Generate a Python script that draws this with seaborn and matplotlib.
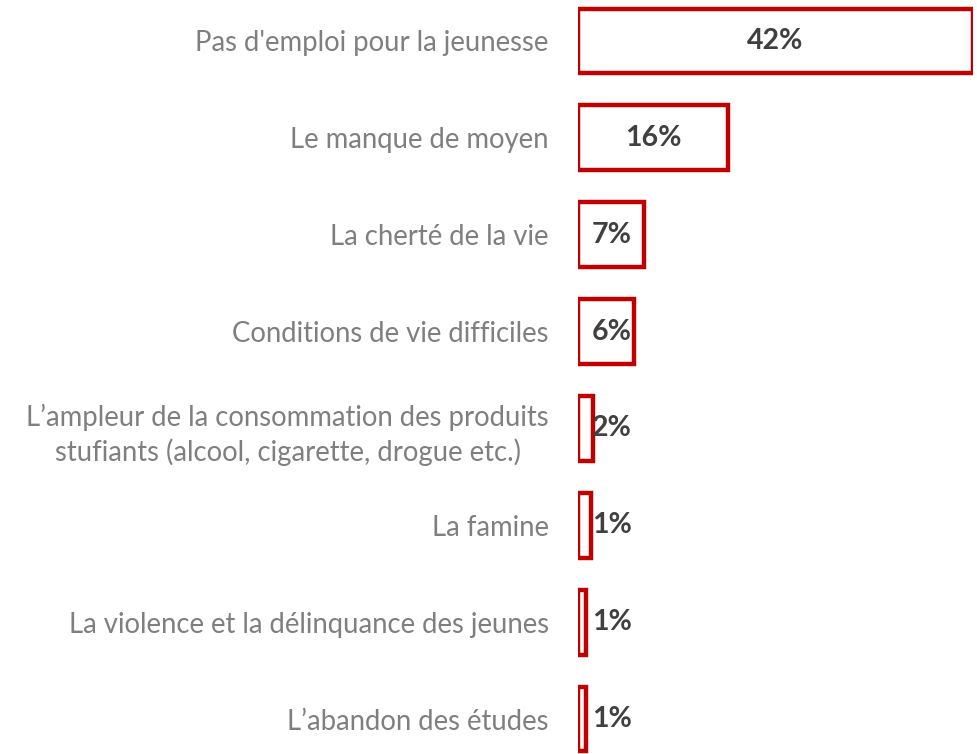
import matplotlib
matplotlib.use("Agg")
import matplotlib.pyplot as plt
import seaborn as sns
import pandas as pd

# données
categories = [
    "Pas d'emploi pour la jeunesse",
    "Le manque de moyen",
    "La cherté de la vie",
    "Conditions de vie difficiles",
    "L\u2019ampleur de la consommation des produits\nstufiants (alcool, cigarette, drogue etc.)",
    "La famine",
    "La violence et la délinquance des jeunes",
    "L\u2019abandon des études",
]
valeurs = [42, 16, 7, 6, 1.6, 1.4, 0.8, 0.8]
etiquettes = ["42%", "16%", "7%", "6%", "2%", "1%", "1%", "1%"]

df = pd.DataFrame({"cat": categories, "val": valeurs})

sns.set_theme(style="white")
plt.rcParams['font.family'] = ['Lato', 'DejaVu Sans']

fig = plt.figure(figsize=(9.77, 7.54), dpi=100)
ax = fig.add_axes([0.5916, 0, 0.4043, 1])

sns.barplot(data=df, x="val", y="cat", orient="h", color="white",
            edgecolor="#C00000", linewidth=3.2, width=0.67, ax=ax,
            saturation=1)

# étiquettes de valeurs (au centre, décalées pour les petites barres)
for i, (v, lab) in enumerate(zip(valeurs, etiquettes)):
    ax.text(max(v / 2, 3.6), i, lab, ha="center", va="center",
            fontsize=20.5, fontweight="bold", color="#404040")

ax.set_xlim(0, 42)
ax.set_ylim(7.361, -0.423)
ax.set_xlabel("")
ax.set_ylabel("")
ax.set_xticks([])
for s in ax.spines.values():
    s.set_visible(False)
ax.tick_params(axis="y", length=0, pad=21, labelsize=19.8, labelcolor="#7F7F7F")
for t in ax.get_yticklabels():
    t.set_multialignment("center")
    t.set_linespacing(1.35)

fig.savefig("out.png", dpi=100)
